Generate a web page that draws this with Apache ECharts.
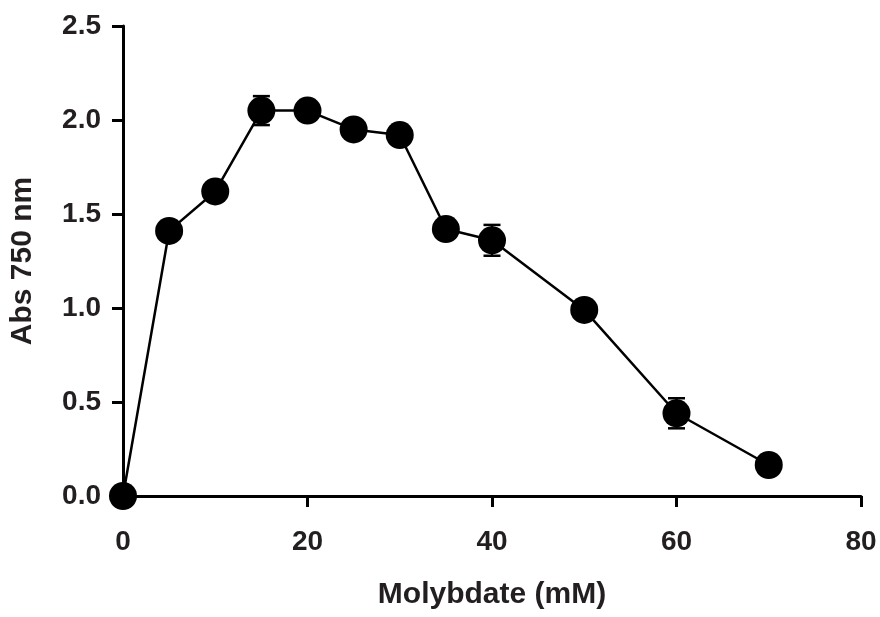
<!DOCTYPE html>
<html>
<head>
<meta charset="utf-8">
<script src="https://cdn.jsdelivr.net/npm/echarts@6/dist/echarts.min.js"></script>
<style>
html,body{margin:0;padding:0;background:#fff;}
#chart{width:880px;height:617px;}
</style>
</head>
<body>
<div id="chart"></div>
<script>
const molybdate = [0, 5, 10, 15, 20, 25, 30, 35, 40, 50, 60, 70];
const absorbance = [0.0, 1.41, 1.62, 2.05, 2.05, 1.95, 1.92, 1.42, 1.36, 0.99, 0.44, 0.165];
const errors = [0, 0, 0, 0.077, 0, 0, 0, 0, 0.082, 0, 0.08, 0];
const xTicks = [0, 20, 40, 60, 80];
const yTicks = [0.0, 0.5, 1.0, 1.5, 2.0, 2.5];

const points = molybdate.map((x, i) => [x, absorbance[i]]);
const errData = molybdate.map((x, i) => [x, absorbance[i] - errors[i], absorbance[i] + errors[i]]).filter((d, i) => errors[i] > 0);

const chart = echarts.init(document.getElementById('chart'));
const fontFamily = '"Liberation Sans", Arial, Helvetica, sans-serif';
const textColor = '#231f20';
chart.setOption({
  animation: false,
  backgroundColor: '#fff',
  grid: { left: 123, right: 19, top: 26, bottom: 121, containLabel: false },
  xAxis: {
    type: 'value',
    min: xTicks[0],
    max: xTicks[xTicks.length - 1],
    interval: 20,
    name: 'Molybdate (mM)',
    nameLocation: 'middle',
    nameGap: 84,
    nameTextStyle: { fontSize: 30, fontWeight: 'bold', color: textColor, fontFamily: fontFamily },
    axisLine: { show: true, lineStyle: { color: '#000', width: 3 } },
    axisTick: { show: true, length: 11, lineStyle: { color: '#000', width: 3 } },
    axisLabel: { fontSize: 28, fontWeight: 'bold', color: textColor, fontFamily: fontFamily, margin: 32 },
    splitLine: { show: false }
  },
  yAxis: {
    type: 'value',
    min: yTicks[0],
    max: yTicks[yTicks.length - 1],
    interval: 0.5,
    name: 'Abs 750 nm',
    nameLocation: 'middle',
    nameGap: 85,
    nameRotate: 90,
    nameTextStyle: { fontSize: 30, fontWeight: 'bold', color: textColor, fontFamily: fontFamily },
    axisLine: { show: true, lineStyle: { color: '#000', width: 3 } },
    axisTick: { show: true, length: 11, lineStyle: { color: '#000', width: 3 } },
    axisLabel: { fontSize: 28, fontWeight: 'bold', color: textColor, fontFamily: fontFamily, margin: 22,
      formatter: v => v.toFixed(1) },
    splitLine: { show: false }
  },
  series: [
    {
      type: 'custom',
      z: 1,
      clip: false,
      data: errData,
      renderItem: function (params, api) {
        const x = api.value(0);
        const lo = api.coord([x, api.value(1)]);
        const hi = api.coord([x, api.value(2)]);
        const hw = 8.5;
        const style = { stroke: '#000', lineWidth: 2.5 };
        return {
          type: 'group',
          children: [
            { type: 'line', shape: { x1: lo[0], y1: lo[1], x2: hi[0], y2: hi[1] }, style: style },
            { type: 'line', shape: { x1: lo[0] - hw, y1: lo[1], x2: lo[0] + hw, y2: lo[1] }, style: style },
            { type: 'line', shape: { x1: hi[0] - hw, y1: hi[1], x2: hi[0] + hw, y2: hi[1] }, style: style }
          ]
        };
      }
    },
    {
      type: 'line',
      z: 2,
      clip: false,
      data: points,
      symbol: 'circle',
      symbolSize: 28,
      lineStyle: { color: '#000', width: 2.5 },
      itemStyle: { color: '#000', borderWidth: 0 }
    }
  ]
});
</script>
</body>
</html>
